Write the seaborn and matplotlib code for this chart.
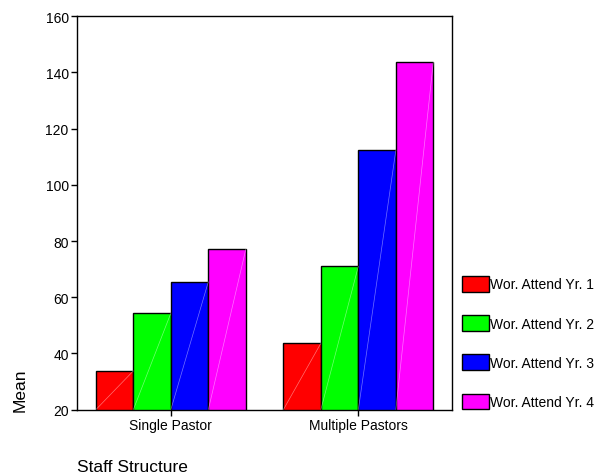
import matplotlib
matplotlib.use('Agg')
import matplotlib.pyplot as plt
import seaborn as sns
import pandas as pd

# Data
categories = ['Single Pastor', 'Multiple Pastors']
series = ['Wor. Attend Yr. 1', 'Wor. Attend Yr. 2', 'Wor. Attend Yr. 3', 'Wor. Attend Yr. 4']
means = {
    'Wor. Attend Yr. 1': [33.8, 43.6],
    'Wor. Attend Yr. 2': [54.3, 71.0],
    'Wor. Attend Yr. 3': [65.5, 112.3],
    'Wor. Attend Yr. 4': [77.1, 143.8],
}
colors = ['#FF0000', '#00FF00', '#0000FF', '#FF00FF']
y_ticks = [20, 40, 60, 80, 100, 120, 140, 160]

rows = []
for s in series:
    for c, v in zip(categories, means[s]):
        rows.append({'Staff Structure': c, 'series': s, 'Mean': v})
df = pd.DataFrame(rows)

sns.set_theme(style='white')
plt.rcParams['font.family'] = ['Liberation Sans', 'DejaVu Sans']
plt.rcParams['text.color'] = 'black'

fig = plt.figure(figsize=(6.02, 4.77), dpi=100)
ax = fig.add_axes([0.128, 0.139, 0.623, 0.825])

sns.barplot(data=df, x='Staff Structure', y='Mean', hue='series',
            order=categories, hue_order=series, palette=colors,
            edgecolor='black', linewidth=1, saturation=1, ax=ax,
            legend=True)

# faint diagonal streak seen inside each bar
for p in ax.patches:
    if p.get_height() > 0 and p.get_width() > 0 and p.get_x() > -1:
        x0 = p.get_x()
        ax.plot([x0, x0 + p.get_width()], [20, p.get_height()],
                color='white', lw=0.5, alpha=0.45, zorder=p.get_zorder() + 0.1)

ax.set_xlim(-0.5, 1.5)
ax.set_ylim(20, 160)
ax.set_yticks(y_ticks)
ax.tick_params(axis='both', direction='out', length=4, width=1, color='black',
               labelsize=10, labelcolor='black', left=True, bottom=True, pad=2)
for sp in ax.spines.values():
    sp.set_visible(True)
    sp.set_color('black')
    sp.set_linewidth(1)

ax.set_xlabel('')
ax.set_ylabel('')
fig.text(20 / 602, 1 - 390 / 477, 'Mean', rotation=90, fontsize=12.5,
         ha='center', va='center', color='black')
fig.text(77 / 602, 1 - 468 / 477, 'Staff Structure', fontsize=12.5,
         ha='left', va='center', color='black')

handles, labels = ax.get_legend_handles_labels()
ax.get_legend().remove()
fig.legend(handles, labels, loc='upper left',
           bbox_to_anchor=(462 / 602, 1 - 277 / 477), frameon=False,
           fontsize=10, handlelength=1.95, handleheight=1.35,
           handletextpad=0.05, labelspacing=1.7, borderpad=0,
           borderaxespad=0, labelcolor='black')

fig.savefig('out.png', dpi=100)
